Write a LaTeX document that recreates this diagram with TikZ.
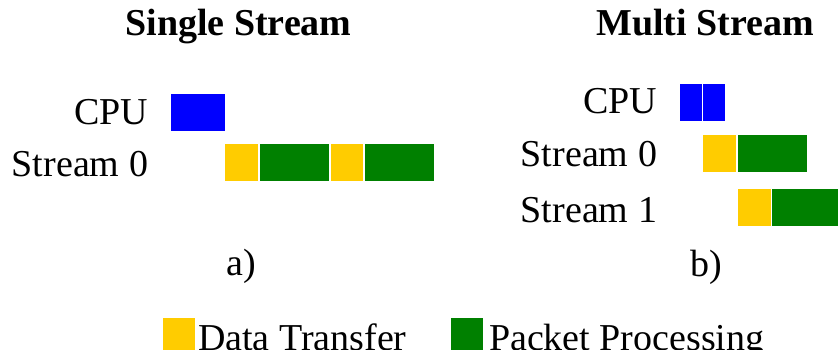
\documentclass[tikz,border=0pt]{standalone}
\usepackage{fontspec}
\setmainfont{Liberation Serif}
\definecolor{cpublue}{HTML}{0000FF}
\definecolor{xferyellow}{HTML}{FFCC00}
\definecolor{procgreen}{HTML}{008000}
\tikzset{
  lbl/.style={inner sep=0pt, outer sep=0pt, font=\fontsize{38}{40}\selectfont},
  ttl/.style={lbl, font=\fontsize{38}{40}\selectfont\bfseries},
  cpu/.style={fill=cpublue},
  xfer/.style={fill=xferyellow},
  proc/.style={fill=procgreen}
}
\begin{document}
\begin{tikzpicture}[x=1pt,y=-1pt]
  \clip (0,0) rectangle (838,350);
  \useasboundingbox (0,0) rectangle (838,350);
  \fill[white] (0,0) rectangle (838,350);

  % ---- a) single stream ----
  \node[ttl, anchor=base] (t1) at (238.5,36) {Single Stream};
  \node[lbl, anchor=base east] (c1) at (148,125) {CPU};
  \node[lbl, anchor=base east] (s10) at (148,176) {Stream 0};
  \fill[cpu]  (171,94) rectangle (225,131);
  \fill[xfer] (225,144) rectangle (258,181);
  \fill[proc] (260,144) rectangle (329,181);
  \fill[xfer] (331,144) rectangle (363,181);
  \fill[proc] (365,144) rectangle (434,181);
  \node[lbl, anchor=base] (la) at (241,275) {a)};

  % ---- b) multi stream ----
  \node[ttl, anchor=base] (t2) at (705,36) {Multi Stream};
  \node[lbl, anchor=base east] (c2) at (657,114) {CPU};
  \node[lbl, anchor=base east] (s20) at (657,167) {Stream 0};
  \node[lbl, anchor=base east] (s21) at (657,222) {Stream 1};
  \fill[cpu]  (680,84) rectangle (702,121);
  \fill[cpu]  (703,84) rectangle (725,121);
  \fill[xfer] (703,135) rectangle (736,172);
  \fill[proc] (738,135) rectangle (807,172);
  \fill[xfer] (738,189) rectangle (771,226);
  \fill[proc] (772,189) rectangle (838,226);
  \node[lbl, anchor=base] (lb) at (706,276) {b)};

  % ---- legend ----
  \fill[xfer] (163,318) rectangle (195,356);
  \node[lbl, anchor=base west] (k1) at (198,350.5) {Data Transfer};
  \fill[proc] (451,318) rectangle (483,356);
  \node[lbl, anchor=base west] (k2) at (489,350.5) {Packet Processing};
\end{tikzpicture}
\end{document}
